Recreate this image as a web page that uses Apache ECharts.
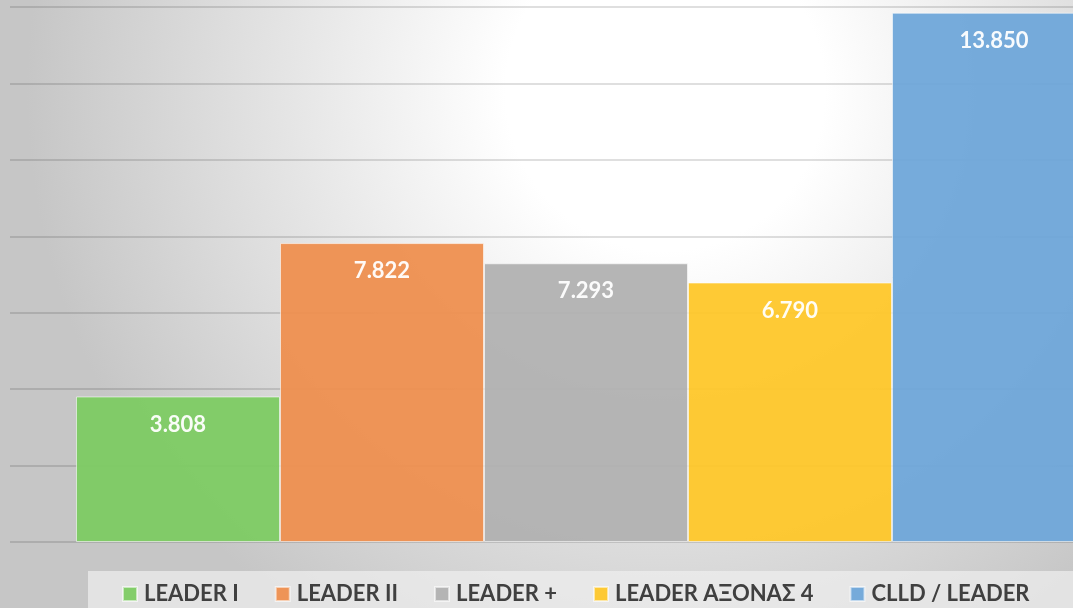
<!DOCTYPE html>
<html>
<head>
<meta charset="utf-8">
<style>
  html, body { margin: 0; padding: 0; }
  #main { width: 1073px; height: 608px; }
</style>
<script src="https://cdn.jsdelivr.net/npm/echarts@6/dist/echarts.min.js"></script>
</head>
<body>
<div id="main"></div>
<script>
// 系列名称与数值
var seriesNames = ['LEADER I', 'LEADER II', 'LEADER +', 'LEADER ΑΞΟΝΑΣ 4', 'CLLD / LEADER'];
var seriesValues = [3.808, 7.822, 7.293, 6.790, 13.850];
var seriesColors = ['#7dcb63', '#ee8f4f', '#b1b1b1', '#fec72a', '#6fa6d9'];

var myChart = echarts.init(document.getElementById('main'));

// 横轴用数值轴，所有柱子放在 x=0 处，右侧被截断
var series = seriesNames.map(function (name, i) {
    return {
        name: name,
        type: 'bar',
        data: [[0, seriesValues[i]]],
        barWidth: 204,
        barGap: '0%',
        itemStyle: {
            color: seriesColors[i],
            opacity: 0.95,
            borderColor: 'rgba(255,255,255,0.6)',
            borderWidth: 1
        },
        label: {
            show: true,
            position: 'insideTop',
            distance: 17,
            color: '#ffffff',
            fontFamily: 'Lato',
            fontWeight: 'bold',
            fontSize: 22,
            formatter: function (p) { return p.value[1].toFixed(3); }
        }
    };
});

var option = {
    backgroundColor: {
        type: 'radial',
        x: 0.62, y: 0.15, r: 1.05,
        colorStops: [
            { offset: 0, color: '#ffffff' },
            { offset: 0.25, color: '#ffffff' },
            { offset: 1, color: '#c6c6c6' }
        ]
    },
    graphic: [{
        type: 'rect',
        left: 88,
        top: 571,
        shape: { width: 985, height: 37 },
        style: { fill: 'rgba(240,240,240,0.7)' },
        z: -1
    }],
    grid: { left: 10, top: 7, right: 0, bottom: 66 },
    xAxis: {
        type: 'value',
        min: -576,
        max: 487,
        axisLine: { show: false },
        axisTick: { show: false },
        axisLabel: { show: false },
        splitLine: { show: false }
    },
    yAxis: {
        type: 'value',
        min: 0,
        max: 14,
        interval: 2,
        axisLine: { show: false },
        axisTick: { show: false },
        axisLabel: { show: false },
        splitLine: { lineStyle: { color: 'rgba(0,0,0,0.17)', width: 1.5 } }
    },
    legend: {
        data: seriesNames,
        left: 117,
        top: 578,
        icon: 'rect',
        itemWidth: 14,
        itemHeight: 14,
        itemGap: 36,
        textStyle: {
            color: '#404040',
            fontFamily: 'Lato',
            fontWeight: 'bold',
            fontSize: 22,
            padding: [0, 0, 0, 2]
        }
    },
    series: series
};

myChart.setOption(option);
</script>
</body>
</html>
